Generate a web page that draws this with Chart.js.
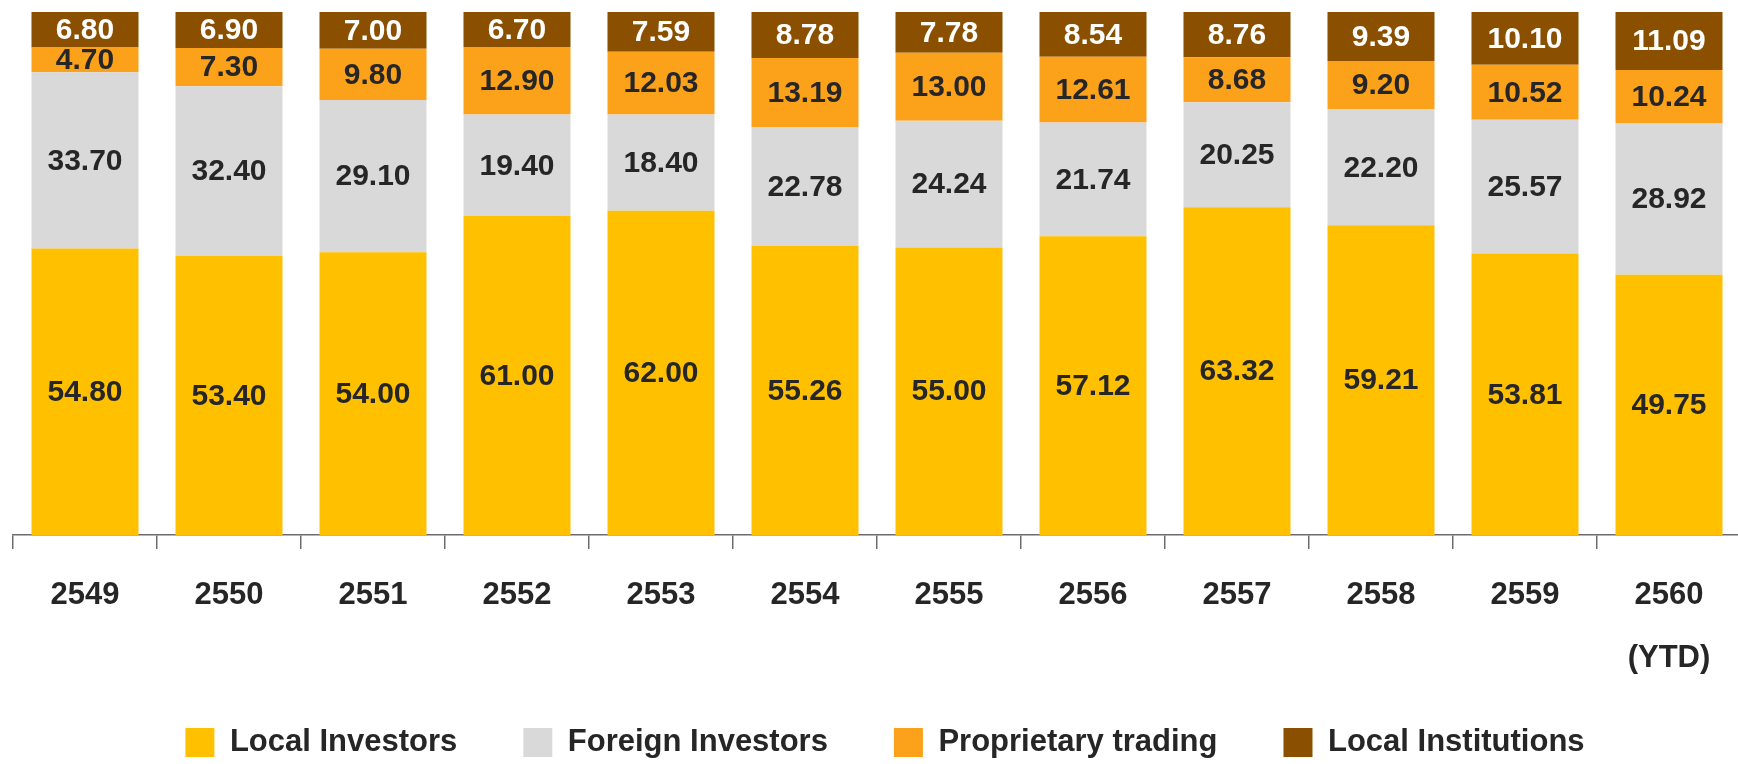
<!DOCTYPE html>
<html>
<head>
<meta charset="utf-8">
<title>Investor type share</title>
<script src="https://cdn.jsdelivr.net/npm/chart.js@4.4.1/dist/chart.umd.min.js"></script>
<style>
    html, body { margin: 0; padding: 0; background: #fff; overflow: hidden; }
    #wrap { width: 1770px; height: 768px; }
</style>
</head>
<body>
<div id="wrap"><canvas id="shareChart" width="1770" height="768"></canvas></div>
<script>
// Chart data
const categories = ['2549', '2550', '2551', '2552', '2553', '2554', '2555', '2556', '2557', '2558', '2559', ['2560', '(YTD)']];
const seriesNames = ['Local Investors', 'Foreign Investors', 'Proprietary trading', 'Local Institutions'];
const localInvestors = [54.80, 53.40, 54.00, 61.00, 62.00, 55.26, 55.00, 57.12, 63.32, 59.21, 53.81, 49.75];
const foreignInvestors = [33.70, 32.40, 29.10, 19.40, 18.40, 22.78, 24.24, 21.74, 20.25, 22.20, 25.57, 28.92];
const proprietaryTrading = [4.70, 7.30, 9.80, 12.90, 12.03, 13.19, 13.00, 12.61, 8.68, 9.20, 10.52, 10.24];
const localInstitutions = [6.80, 6.90, 7.00, 6.70, 7.59, 8.78, 7.78, 8.54, 8.76, 9.39, 10.10, 11.09];

const colors = ['#FFC000', '#D9D9D9', '#FCA21A', '#8A5000'];
const labelColors = ['#262626', '#262626', '#262626', '#FFFFFF'];
const INK = '#262626';

Chart.defaults.font.family = "'Liberation Sans', Arial, sans-serif";

// 100% stacked: each column is scaled to its own total
const raw = [localInvestors, foreignInvestors, proprietaryTrading, localInstitutions];
const totals = categories.map((_, i) => raw.reduce((s, arr) => s + arr[i], 0));

const datasets = raw.map((arr, k) => ({
    label: seriesNames[k],
    data: arr.map((v, i) => v / totals[i] * 100),
    rawValues: arr,
    backgroundColor: colors[k],
    borderWidth: 0,
    categoryPercentage: 107 / 144,
    barPercentage: 1
}));

// value labels in the middle of each segment
const segmentLabels = {
    id: 'segmentLabels',
    beforeDraw(chart) {
        // let the second line of the last tick label spill below the axis box
        chart.scales.x._computeLabelArea = () => undefined;
    },
    afterDatasetsDraw(chart) {
        const ctx = chart.ctx;
        ctx.save();
        ctx.font = "bold 30px 'Liberation Sans', Arial, sans-serif";
        ctx.textAlign = 'center';
        ctx.textBaseline = 'middle';
        chart.data.datasets.forEach((ds, k) => {
            const meta = chart.getDatasetMeta(k);
            meta.data.forEach((bar, i) => {
                const p = bar.getProps(['x', 'y', 'base'], true);
                ctx.fillStyle = labelColors[k];
                ctx.fillText(ds.rawValues[i].toFixed(2), p.x, (p.y + p.base) / 2 + 1);
            });
        });
        ctx.restore();
    }
};

new Chart(document.getElementById('shareChart'), {
    type: 'bar',
    data: { labels: categories, datasets: datasets },
    options: {
        responsive: false,
        animation: false,
        layout: { padding: { top: 12, left: 0, right: 0, bottom: 0 } },
        plugins: {
            tooltip: { enabled: false },
            legend: {
                position: 'bottom',
                labels: {
                    boxWidth: 29,
                    boxHeight: 29,
                    padding: 66,
                    color: INK,
                    font: { size: 31, weight: 'bold' }
                }
            }
        },
        scales: {
            x: {
                stacked: true,
                grid: {
                    display: true,
                    drawOnChartArea: false,
                    tickLength: 14,
                    tickColor: '#6d6d6d',
                    lineWidth: 1.5
                },
                border: { display: true, color: '#6d6d6d', width: 1.5 },
                ticks: {
                    color: INK,
                    padding: 15,
                    maxRotation: 0,
                    autoSkip: false,
                    font: { size: 31, weight: 'bold', lineHeight: '63px' }
                },
                afterFit: (s) => { s.height = 126; }
            },
            y: {
                stacked: true,
                min: 0,
                max: 100,
                display: true,
                ticks: { display: false },
                grid: { display: false },
                border: { display: false },
                afterFit: (s) => { s.width = 13; }
            },
            y2: {
                type: 'linear',
                position: 'right',
                display: true,
                ticks: { display: false },
                grid: { display: false },
                border: { display: false },
                afterFit: (s) => { s.width = 29; }
            }
        }
    },
    plugins: [segmentLabels]
});
</script>
</body>
</html>
